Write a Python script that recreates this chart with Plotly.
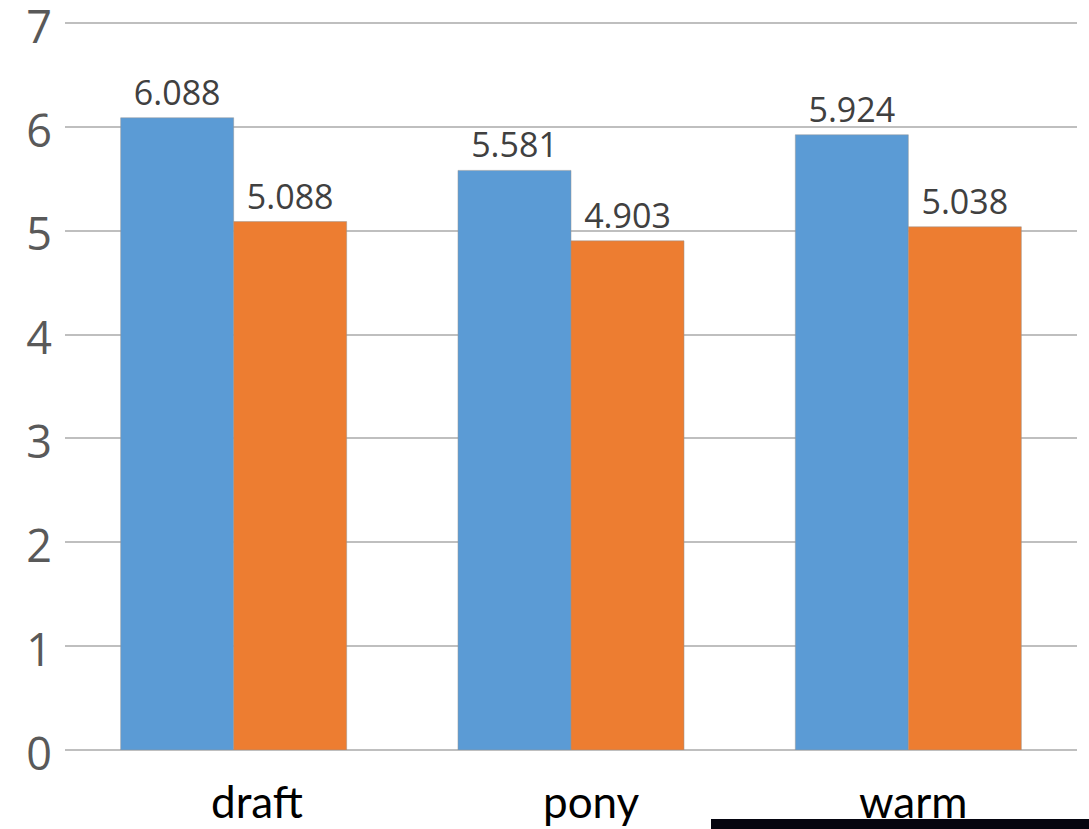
import plotly.graph_objects as go

categories = ["draft", "pony", "warm"]
series_a = [6.088, 5.581, 5.924]
series_b = [5.088, 4.903, 5.038]
y_ticks = [0, 1, 2, 3, 4, 5, 6, 7]

BLUE = "#5B9BD5"
ORANGE = "#ED7D31"
GRID = "#BFBFBF"

W, H = 1089, 829
M_L, M_R, M_T, M_B = 65, 12, 22, 79
Y_TOP = 7.01

fig = go.Figure()
for vals, color in ((series_a, BLUE), (series_b, ORANGE)):
    fig.add_trace(go.Bar(
        x=categories,
        y=vals,
        marker=dict(color=color, line=dict(color="rgba(150,150,150,0.5)", width=1)),
        text=[f"{v:.3f}" for v in vals],
        textposition="outside",
        textfont=dict(family="Open Sans, sans-serif", size=34, color="#404040"),
        constraintext="none",
        cliponaxis=False,
    ))

# category names under each group, nudged right
label_shift = [23, 20, 5]
for cat, dx in zip(categories, label_shift):
    fig.add_annotation(
        x=cat, xref="x", y=0, yref="paper",
        text=cat, showarrow=False,
        xanchor="center", yanchor="top",
        xshift=dx, yshift=-24, borderpad=0,
        font=dict(family="Lato, sans-serif", size=44, color="#000000"),
    )

# dark strip along the lower edge of the page
plot_w = W - M_L - M_R
plot_h = H - M_T - M_B
fig.add_shape(
    type="rect", xref="paper", yref="paper",
    x0=(711 - M_L) / plot_w, x1=(W - M_L) / plot_w,
    y0=-(819 - (H - M_B)) / plot_h,
    y1=-M_B / plot_h,
    fillcolor="#05050f", line=dict(width=0), layer="above",
)

fig.update_layout(
    width=W, height=H,
    margin=dict(l=M_L, r=M_R, t=M_T, b=M_B, autoexpand=False),
    barmode="group",
    bargap=0.33,
    bargroupgap=0,
    showlegend=False,
    plot_bgcolor="white",
    paper_bgcolor="white",
    xaxis=dict(showgrid=False, showline=False, ticks="", showticklabels=False,
               automargin=False),
    yaxis=dict(
        range=[0, Y_TOP], tickvals=y_ticks,
        showgrid=True, gridcolor=GRID, gridwidth=2,
        zeroline=True, zerolinecolor=GRID, zerolinewidth=2,
        showline=False, ticks="",
        tickfont=dict(family="Open Sans, sans-serif", size=45, color="#595959"),
        ticklabelstandoff=12,
        ticklabelshift=4,
        ticklabeloverflow="allow",
        automargin=False,
    ),
)

fig.write_html("out.html")
